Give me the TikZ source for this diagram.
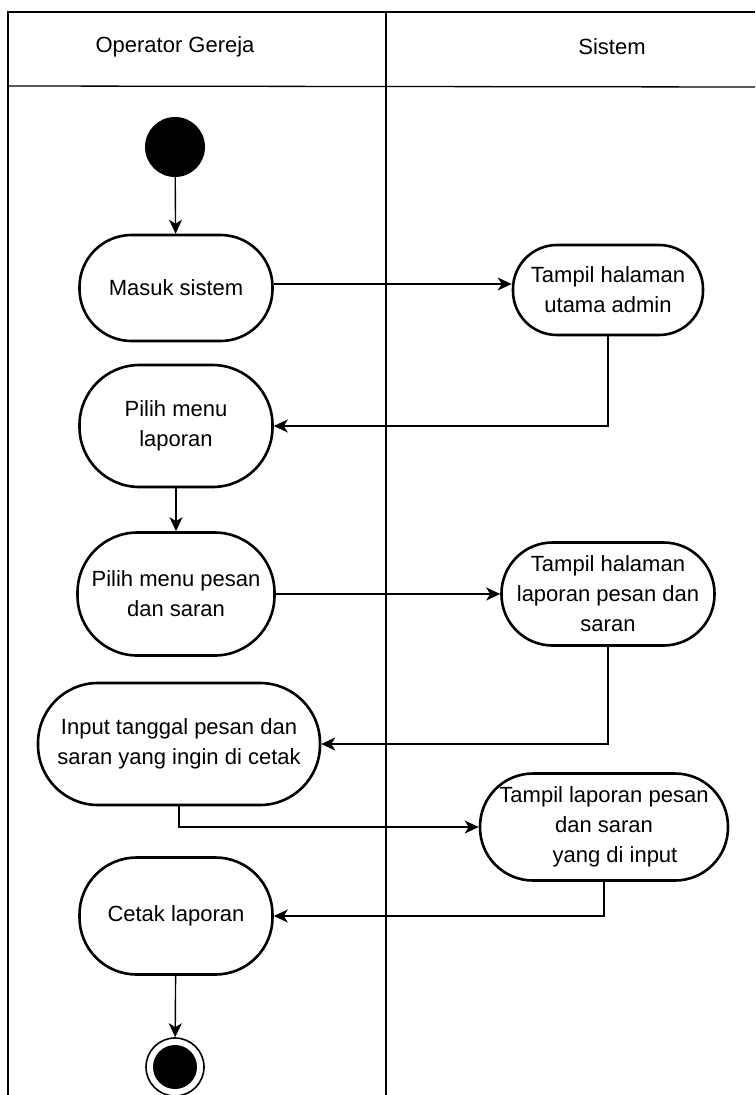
\documentclass[tikz,border=0pt]{standalone}
\usepackage{fontspec}
\setmainfont{Liberation Sans}
\usetikzlibrary{arrows.meta}
\begin{document}
\begin{tikzpicture}[x=1pt,y=-1pt,
  act/.style={draw, line width=2.6pt, align=center, inner sep=0pt, font=\fontsize{22}{30}\selectfont},
  lane/.style={line width=1.3pt},
  flow/.style={line width=1.4pt, -{Stealth[length=14pt,width=13pt,inset=4pt]}},
  lbl/.style={font=\fontsize{22}{26}\selectfont}]
\useasboundingbox (0,0) rectangle (755,1095);
% swimlanes
\draw[lane] (8,1095) -- (8,12) -- (755,12);
\draw[lane] (386,12) -- (386,1095);
\draw[lane] (8,86) -- (755,87);
\node[lbl] (h1) at (175,47) {Operator Gereja};
\node[lbl] (h2) at (612,47) {Sistem};
% nodes
\node[circle, fill=black, minimum size=60pt, inner sep=0pt] (start) at (175,147) {};
\node[act, minimum width=193pt, minimum height=106pt, rounded corners=52pt] (masuk) at (176,288) {Masuk sistem};
\node[act, minimum width=190pt, minimum height=90pt, rounded corners=44pt] (utama) at (608,290) {Tampil halaman\\utama admin};
\node[act, minimum width=193pt, minimum height=122pt, rounded corners=60pt] (menulap) at (176,426) {Pilih menu\\laporan};
\node[act, minimum width=197pt, minimum height=123pt, rounded corners=60pt] (menupesan) at (176,594) {Pilih menu pesan\\dan saran};
\node[act, minimum width=213pt, minimum height=103pt, rounded corners=51pt] (halpesan) at (608,594) {Tampil halaman\\laporan pesan dan\\saran};
\node[act, minimum width=282pt, minimum height=122pt, rounded corners=60pt] (input) at (179,744) {Input tanggal pesan dan\\saran yang ingin di cetak};
\node[act, minimum width=248pt, minimum height=107pt, rounded corners=53pt] (tampillap) at (604,827) {Tampil laporan pesan\\dan saran\\\hspace*{22pt}yang di input};
\node[act, minimum width=193pt, minimum height=117pt, rounded corners=57pt] (cetak) at (176,916) {Cetak laporan};
\node[circle, draw, line width=1.6pt, minimum size=58pt, inner sep=0pt] (end) at (175,1067) {};
\node[circle, fill=black, minimum size=44pt, inner sep=0pt] (endin) at (175,1067) {};
% connectors
\draw[flow] (start) -- (masuk);
\draw[flow] (masuk.east |- 0,284) -- (utama.west |- 0,284);
\draw[flow] (utama.south) |- (menulap.east);
\draw[flow] (menulap) -- (menupesan);
\draw[flow] (menupesan.east) -- (halpesan.west |- menupesan.east);
\draw[flow] (halpesan.south) |- (input.east);
\draw[flow] (input.south) |- (tampillap.west);
\draw[flow] (tampillap.south) |- (cetak.east);
\draw[flow] (cetak) -- (end);
\end{tikzpicture}
\end{document}
